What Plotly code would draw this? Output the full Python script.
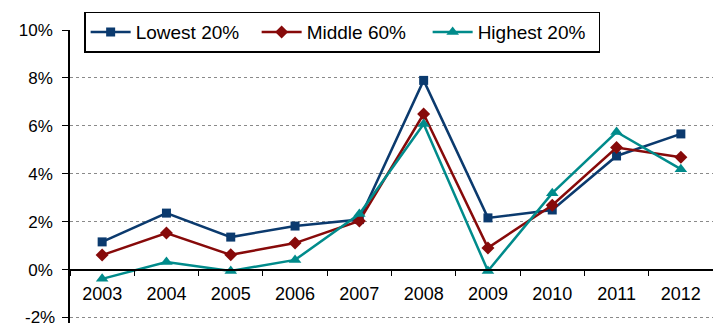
import plotly.graph_objects as go

years = ["2003", "2004", "2005", "2006", "2007", "2008", "2009", "2010", "2011", "2012"]
lowest_20 = [1.17, 2.37, 1.37, 1.83, 2.10, 7.90, 2.17, 2.50, 4.75, 5.67]
middle_60 = [0.62, 1.54, 0.63, 1.12, 2.04, 6.50, 0.92, 2.70, 5.10, 4.70]
highest_20 = [-0.37, 0.33, -0.04, 0.42, 2.33, 6.08, -0.04, 3.20, 5.75, 4.20]
y_ticks = [-2, 0, 2, 4, 6, 8, 10]
y_tick_labels = [f"{v}%" for v in y_ticks]

series = [
    ("Lowest 20%", lowest_20, "#0B3A6E", "square", 9),
    ("Middle 60%", middle_60, "#870A0A", "diamond", 10),
    ("Highest 20%", highest_20, "#008B8B", "triangle-up", 11),
]

fig = go.Figure()
for name, vals, color, symbol, size in series:
    fig.add_trace(go.Scatter(
        x=years, y=vals, name=name, mode="lines+markers",
        line=dict(color=color, width=2.5),
        marker=dict(symbol=symbol, size=size, color=color),
    ))

y_min, y_max = -2.21, 10.0
zero_pos = (0 - y_min) / (y_max - y_min)

# the lowest tick label sits at the page edge, where plotly drops it; draw it as an annotation
fig.add_annotation(
    x=0, xref="paper", y=y_ticks[0], yref="y", text=y_tick_labels[0],
    showarrow=False, xanchor="right", yanchor="middle", xshift=-13,
    font=dict(family="Liberation Sans, Arial, sans-serif", size=17, color="black"),
)

fig.update_layout(
    width=713, height=323,
    margin=dict(l=70, r=0, t=30, b=0),
    paper_bgcolor="white", plot_bgcolor="white",
    font=dict(family="Liberation Sans, Arial, sans-serif", size=17, color="black"),
    showlegend=True,
    legend=dict(
        orientation="h", x=0.022, y=1.0625, xanchor="left", yanchor="top",
        bordercolor="black", borderwidth=1.5, bgcolor="white",
        font=dict(size=19), itemwidth=40, tracegroupgap=0,
        entrywidth=116, entrywidthmode="pixels",
    ),
    xaxis=dict(
        type="category", range=[-0.5, 9.5],
        anchor="free", position=zero_pos,
        showline=True, linecolor="black", linewidth=1.5,
        ticks="outside", tickson="boundaries", ticklen=5, tickcolor="black",
        showgrid=False, tickfont=dict(size=18), ticklabelstandoff=8,
    ),
    yaxis=dict(
        range=[y_min, y_max], tickmode="array",
        tickvals=y_ticks, ticktext=y_tick_labels,
        showline=True, linecolor="black", linewidth=1.5,
        ticks="outside", ticklen=6, tickcolor="black",
        showgrid=True, gridcolor="#8a8a8a", griddash="dot", gridwidth=1,
        zeroline=False, tickfont=dict(size=17), ticklabelstandoff=6,
    ),
)

fig.write_html("out.html")
